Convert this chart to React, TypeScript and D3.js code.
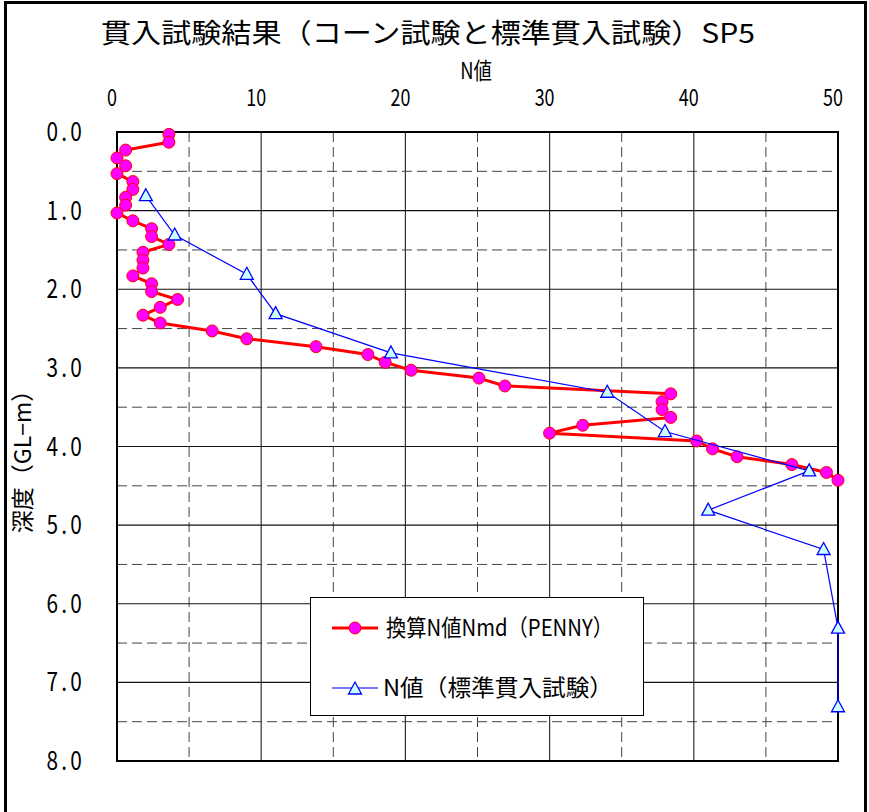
import React from 'react'
import * as d3 from 'd3'

// 換算N値 Nmd (PENNY): depth (GL-m) and value
const pennyDepth = [
  0.03, 0.13, 0.23, 0.33, 0.43, 0.53, 0.63, 0.73, 0.83, 0.93,
  1.03, 1.13, 1.23, 1.33, 1.43, 1.53, 1.63, 1.73, 1.83, 1.93,
  2.03, 2.13, 2.23, 2.33, 2.43, 2.53, 2.63, 2.73, 2.83, 2.93,
  3.03, 3.13, 3.23, 3.33, 3.43, 3.53, 3.63, 3.73, 3.83, 3.93,
  4.03, 4.13, 4.23, 4.33, 4.43,
]
const pennyN = [
  3.6, 3.6, 0.6, 0, 0.6, 0, 1.1, 1.1, 0.6, 0.6,
  0, 1.1, 2.4, 2.4, 3.6, 1.8, 1.8, 1.8, 1.1, 2.4,
  2.4, 4.2, 3.0, 1.8, 3.0, 6.6, 9.0, 13.8, 17.4, 18.6,
  20.4, 25.1, 26.9, 38.4, 37.8, 37.8, 38.4, 32.3, 30.0, 40.2,
  41.3, 43.0, 46.8, 49.2, 50,
]

// N値 (標準貫入試験)
const sptDepth = [0.81, 1.31, 1.81, 2.31, 2.81, 3.31, 3.81, 4.31, 4.81, 5.31, 6.31, 7.31]
const sptN = [2, 4, 9, 11, 19, 34, 38, 48, 41, 49, 50, 50]

const xTicks = [0, 10, 20, 30, 40, 50]
const yTicks = [0, 1, 2, 3, 4, 5, 6, 7, 8]

const title = '貫入試験結果（コーン試験と標準貫入試験）SP5'
const xTitle = 'N値'
const yTitle = '深度（GL−m）'
const legendLabels = ['換算N値Nmd（PENNY）', 'N値（標準貫入試験）']

const W = 869
const H = 812
const font = '"Noto Sans CJK JP", sans-serif'

export default function App() {
  const x = d3.scaleLinear().domain([0, 50]).range([117, 838])
  const y = d3.scaleLinear().domain([0, 8]).range([132, 761])

  const penny = pennyDepth.map((d, i) => ({ d, n: pennyN[i] }))
  const spt = sptDepth.map((d, i) => ({ d, n: sptN[i] }))

  const line = d3.line<{ d: number; n: number }>()
    .x(p => x(p.n))
    .y(p => y(p.d))

  const tri = 'M0,-7L6.5,5L-6.5,5Z'

  const minorX = d3.range(5, 50, 10)
  const majorX = d3.range(10, 50, 10)
  const minorY = d3.range(0.5, 8, 1)
  const majorY = d3.range(1, 8, 1)

  const [x0, x1] = x.range()
  const [y0, y1] = y.range()

  return (
    <div style={{ position: 'absolute', left: 0, top: 0 }}>
      <svg width={W} height={H} style={{ display: 'block', background: '#fff' }} fontFamily={font}>
        <rect x={5.5} y={2.5} width={860} height={840} fill="#fff" stroke="#000" strokeWidth={3} />

        <text x={101} y={43} fontSize={27} textLength={654} lengthAdjust="spacingAndGlyphs">{title}</text>
        <text transform="translate(476,79) scale(0.8,1)" fontSize={23} textAnchor="middle">{xTitle}</text>

        {xTicks.map(t => (
          <text key={t} transform={`translate(${x(t) - 5},106) scale(0.78,1)`} fontSize={23} textAnchor="middle">{t}</text>
        ))}
        {yTicks.map(t => (
          <text key={t} transform={`translate(85,${y(t) + 9}) scale(0.8,1)`} fontSize={26} textAnchor="end" letterSpacing={4}>
            {d3.format('.1f')(t)}
          </text>
        ))}
        <text transform={`translate(31,${456}) rotate(-90)`} fontSize={23} textAnchor="middle">{yTitle}</text>

        {/* grid */}
        {minorX.map(v => (
          <line key={'mx' + v} x1={x(v)} x2={x(v)} y1={y0} y2={y1} stroke="#444" strokeDasharray="10,5" />
        ))}
        {minorY.map(v => (
          <line key={'my' + v} x1={x0} x2={x1} y1={y(v)} y2={y(v)} stroke="#444" strokeDasharray="10,5" />
        ))}
        {majorX.map(v => (
          <line key={'Mx' + v} x1={x(v)} x2={x(v)} y1={y0} y2={y1} stroke="#333" strokeWidth={1.2} />
        ))}
        {majorY.map(v => (
          <line key={'My' + v} x1={x0} x2={x1} y1={y(v)} y2={y(v)} stroke="#111" strokeWidth={1.2} />
        ))}
        <rect x={x0} y={y0} width={x1 - x0} height={y1 - y0} fill="none" stroke="#000" strokeWidth={2} />

        {/* PENNY */}
        <path d={line(penny) ?? ''} fill="none" stroke="#ff0000" strokeWidth={3} strokeLinejoin="round" />
        {penny.map((p, i) => (
          <circle key={'p' + i} cx={x(p.n)} cy={y(p.d)} r={6} fill="#ff00ff" stroke="#ff0000" strokeWidth={1} />
        ))}

        {/* SPT */}
        <path d={line(spt) ?? ''} fill="none" stroke="#0000ff" strokeWidth={1.2} />
        {spt.map((p, i) => (
          <path key={'s' + i} d={tri} transform={`translate(${x(p.n)},${y(p.d)})`}
            fill="#ccffff" stroke="#0000ff" strokeWidth={1.3} />
        ))}

        {/* legend */}
        <rect x={310.5} y={597.5} width={333} height={118} fill="#fff" stroke="#000" strokeWidth={1} />
        <line x1={332} x2={378} y1={628} y2={628} stroke="#ff0000" strokeWidth={3} />
        <circle cx={355} cy={628} r={6} fill="#ff00ff" stroke="#ff0000" strokeWidth={1} />
        <text x={386} y={636} fontSize={23} textLength={227} lengthAdjust="spacingAndGlyphs">{legendLabels[0]}</text>
        <line x1={332} x2={378} y1={688} y2={688} stroke="#4d4dff" strokeWidth={1.5} />
        <path d={tri} transform="translate(355,689)" fill="#ccffff" stroke="#0000ff" strokeWidth={1.3} />
        <text x={383} y={696} fontSize={23} textLength={230} lengthAdjust="spacingAndGlyphs">{legendLabels[1]}</text>
      </svg>
    </div>
  )
}
